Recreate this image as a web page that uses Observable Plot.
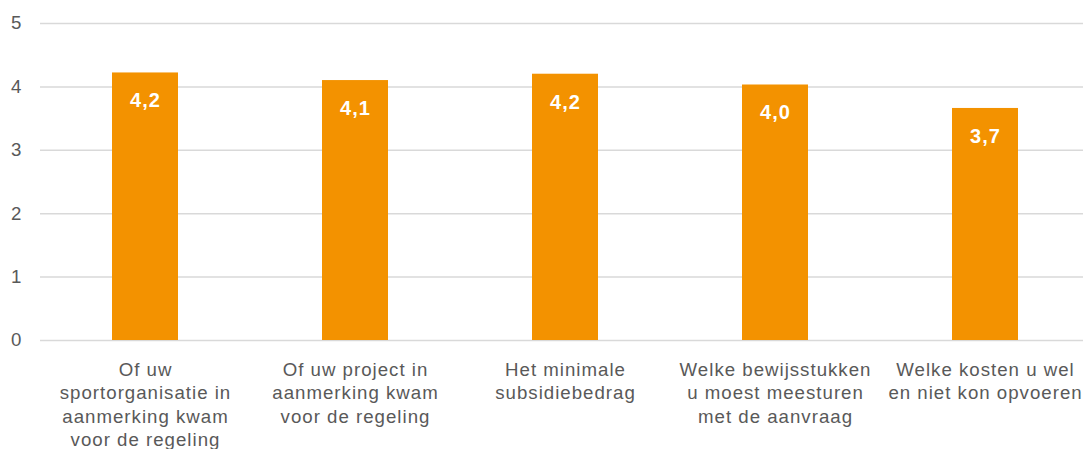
<!DOCTYPE html>
<html>
<head>
<meta charset="utf-8">
<script src="https://cdn.jsdelivr.net/npm/d3@7"></script>
<script src="https://cdn.jsdelivr.net/npm/@observablehq/plot@0.6"></script>
<style>
  html, body { margin: 0; padding: 0; background: #ffffff; }
  #chart { width: 1083px; height: 449px; }
</style>
</head>
<body>
<div id="chart"></div>
<script>
const categories = [
  "Of uw\nsportorganisatie in\naanmerking kwam\nvoor de regeling",
  "Of uw project in\naanmerking kwam\nvoor de regeling",
  "Het minimale\nsubsidiebedrag",
  "Welke bewijsstukken\nu moest meesturen\nmet de aanvraag",
  "Welke kosten u wel\nen niet kon opvoeren"
];
const values = [4.22, 4.10, 4.20, 4.03, 3.66];
const yTicks = [0, 1, 2, 3, 4, 5];

const data = categories.map((c, i) => ({ category: c, value: values[i] }));
const fmt = v => v.toFixed(1).replace(".", ",");

const chart = Plot.plot({
  width: 1083,
  height: 449,
  marginLeft: 40,
  marginRight: 0,
  marginTop: 23,
  marginBottom: 109,
  style: {
    fontFamily: "'Liberation Sans', Arial, sans-serif",
    fontSize: "18.67px",
    letterSpacing: "1px",
    color: "#595959",
    background: "#ffffff"
  },
  x: { domain: categories, range: [40, 1090], paddingInner: 0.686, paddingOuter: 0.343, label: null },
  y: { domain: [0, 5], label: null },
  marks: [
    Plot.ruleY(yTicks, { stroke: "#d9d9d9", strokeWidth: 1.5 }),
    Plot.barY(data, { x: "category", y: "value", fill: "#F39200" }),
    Plot.text(data, {
      x: "category", y: "value", text: d => fmt(d.value),
      fill: "white", fontWeight: "bold", fontSize: 20, dy: 28
    }),
    Plot.axisY({ ticks: yTicks, tickFormat: d => String(d), tickSize: 0, tickPadding: 18, fontSize: 18.67, label: null }),
    Plot.axisX({ tickSize: 0, tickPadding: 18.5, fontSize: 18.67, lineHeight: 1.26, label: null })
  ]
});
document.getElementById("chart").appendChild(chart);
</script>
</body>
</html>
